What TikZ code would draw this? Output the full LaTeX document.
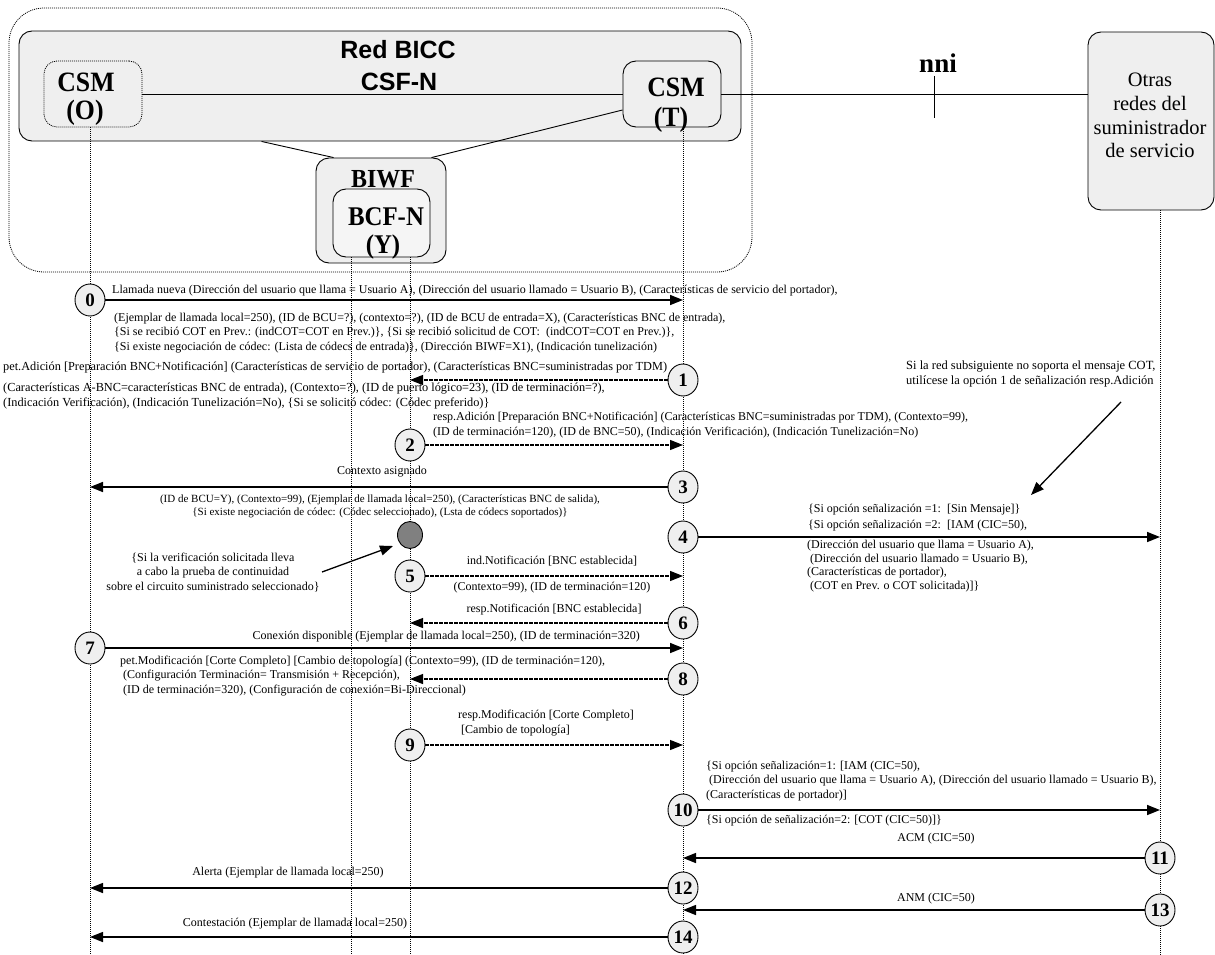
\documentclass[tikz,border=0pt]{standalone}
\usepackage{fontspec}
\setmainfont{Liberation Serif}
\setsansfont{Liberation Sans}
\newfontfamily\condserif[FakeStretch=0.92]{Liberation Serif}
\usetikzlibrary{arrows.meta,shapes.geometric,calc}
\definecolor{boxgray}{HTML}{EFEFEF}
\definecolor{dotgray}{HTML}{808080}
\newcommand\fsz[2]{\fontsize{#1}{#2}\selectfont}
\begin{document}
\begin{tikzpicture}[x=1pt,y=-1pt,
  box/.style={draw, fill=boxgray, line width=0.9pt, rounded corners=13pt, inner sep=0pt},
  life/.style={line width=0.7pt, dash pattern=on 1pt off 1pt},
  num/.style={ellipse, draw, fill=boxgray, line width=0.9pt, minimum width=30pt,
    minimum height=32pt, inner sep=0pt, font=\bfseries\fsz{19}{19}},
  msg/.style={line width=1.5pt, -{Triangle[length=13pt,width=10pt]}},
  dmsg/.style={line width=1.1pt, dash pattern=on 3.5pt off 1.5pt, -{Triangle[length=13pt,width=10pt]}},
  lbl/.style={inner sep=0pt, align=left, font=\fsz{12}{14.2}},
  clbl/.style={inner sep=0pt, align=center, font=\fsz{12}{14.2}},
  big/.style={inner sep=0pt, font=\condserif\bfseries\fsz{28}{28}},
  note/.style={line width=1.3pt, -{Triangle[length=13pt,width=10pt]}}]
\useasboundingbox (0,0) rectangle (1215,955);

% network boxes
\node[draw, line width=0.8pt, dash pattern=on 1pt off 1pt, rounded corners=35pt,
  minimum width=743pt, minimum height=264pt] (outer) at (380.5,140) {};
\node[box, minimum width=722pt, minimum height=110pt] (bicc) at (380,86) {};
\node[font=\sffamily\bfseries\fsz{25}{25}, inner sep=0pt] (bicct) at (398,50) {Red BICC};
\node[font=\sffamily\bfseries\fsz{25}{25}, inner sep=0pt] (csfn) at (399,82) {CSF-N};
\node[box, dash pattern=on 1pt off 1pt, line width=0.8pt, minimum width=98pt, minimum height=66pt] (csmO) at (93,94) {};
\node[big] (csmOa) at (86,82) {CSM};
\node[big] (csmOb) at (85,113) {(O)};
\node[box, minimum width=98pt, minimum height=66pt] (csmT) at (672,94) {};
\node[big] (csmTa) at (676,87) {CSM};
\node[big] (csmTb) at (671,120) {(T)};
\node[box, minimum width=130pt, minimum height=105pt] (biwf) at (381,210.5) {};
\node[inner sep=0pt, font=\condserif\bfseries\fsz{26}{26}] (biwft) at (383,179) {BIWF};
\node[box, fill=boxgray!60, minimum width=97pt, minimum height=68pt] (bcfn) at (381.5,223) {};
\node[inner sep=0pt, font=\condserif\bfseries\fsz{27}{27}] (bcfna) at (386,217) {BCF-N};
\node[inner sep=0pt, font=\condserif\bfseries\fsz{27}{27}] (bcfnb) at (383,247) {(Y)};
\node[box, minimum width=126pt, minimum height=178pt] (otras) at (1151,121) {};
\node[inner sep=0pt, align=center, font=\fsz{20.5}{23.7}] (otrast) at (1150,115.5)
  {Otras\\redes del\\suministrador\\de servicio};
\node[inner sep=0pt, font=\bfseries\fsz{27}{27}] (nni) at (938,63) {nni};

% links between the network elements
\draw[line width=0.9pt] (csmO.east) -- (csmT.west);
\draw[line width=0.9pt] (csmT.east) -- (otras.west |- csmT.east);
\coordinate (tickT) at (934,76);
\coordinate (tickB) at (934,118);
\draw[line width=0.9pt] (tickT) -- (tickB);
\draw[line width=0.9pt] ([xshift=243pt]bicc.south west) -- ([xshift=18pt]biwf.north west);
\draw[line width=0.9pt] ([yshift=-16pt]csmT.west) -- ([xshift=-15pt]biwf.north east);

% lifelines
\coordinate (LO) at (90,955);
\coordinate (LY) at (351,955);
\coordinate (LZ) at (410,955);
\coordinate (LT) at (683,955);
\coordinate (LR) at (1160,955);
\draw[life] (LO |- csmO.south) -- (LO);
\draw[life] (LY |- bcfn.south) -- (LY);
\draw[life] (LZ |- bcfn.south) -- (LZ);
\draw[life] (LT |- csmT.south) -- (LT);
\draw[life] (LR |- otras.south) -- (LR);

% numbered steps
\node[num] (c0) at (90,300) {0};
\node[num] (c1) at (683,380) {1};
\node[num] (c2) at (410,445) {2};
\node[num] (c3) at (683,487) {3};
\node[ellipse, draw, fill=dotgray, line width=0.9pt, minimum width=25pt, minimum height=27pt, inner sep=0pt] (gdot) at (410,535) {};
\node[num] (c4) at (683,537) {4};
\node[num] (c5) at (410,576) {5};
\node[num] (c6) at (683,623) {6};
\node[num] (c7) at (90,648) {7};
\node[num] (c8) at (683,679) {8};
\node[num] (c9) at (410,745) {9};
\node[num] (c10) at (683,810) {10};
\node[num] (c11) at (1160,858) {11};
\node[num] (c12) at (683,888) {12};
\node[num] (c13) at (1160,910) {13};
\node[num] (c14) at (683,937) {14};

% messages
\draw[msg] (c0.east) -- (c0.east -| LT);
\draw[dmsg] (c1.west) -- (c1.west -| LZ);
\draw[dmsg] (c2.east) -- (c2.east -| LT);
\draw[msg] (c3.west) -- (c3.west -| LO);
\draw[msg] (c4.east) -- (c4.east -| LR);
\draw[dmsg] (c5.east) -- (c5.east -| LT);
\draw[dmsg] (c6.west) -- (c6.west -| LZ);
\draw[msg] (c7.east) -- (c7.east -| LT);
\draw[dmsg] (c8.west) -- (c8.west -| LZ);
\draw[dmsg] (c9.east) -- (c9.east -| LT);
\draw[msg] (c10.east) -- (c10.east -| LR);
\draw[msg] (c11.west) -- (c11.west -| LT);
\draw[msg] (c12.west) -- (c12.west -| LO);
\draw[msg] (c13.west) -- (c13.west -| LT);
\draw[msg] (c14.west) -- (c14.west -| LO);

% message parameters
\node[lbl, anchor=west] (t0a) at (112,291) {Llamada nueva (Dirección del usuario que llama = Usuario A), (Dirección del usuario llamado = Usuario B), (Características de servicio del portador),};
\node[lbl, anchor=west] (t0b) at (114,333) {(Ejemplar de llamada local=250), (ID de BCU=?), (contexto=?), (ID de BCU de entrada=X), (Características BNC de entrada),\\
\{Si se recibió COT en Prev.: (indCOT=COT en Prev.)\}, \{Si se recibió solicitud de COT:\ \ (indCOT=COT en Prev.)\},\\
\{Si existe negociación de códec: (Lista de códecs de entrada)\}, (Dirección BIWF=X1), (Indicación tunelización)};
\node[lbl, anchor=west, font=\fsz{12.3}{14.2}] (t1a) at (3,367) {pet.Adición [Preparación BNC+Notificación] (Características de servicio de portador), (Características BNC=suministradas por TDM)};
\node[lbl, anchor=west, font=\fsz{12.3}{14.2}] (t1b) at (3,396) {(Características A-BNC=características BNC de entrada), (Contexto=?), (ID de puerto lógico=23), (ID de terminación=?),\\
(Indicación Verificación), (Indicación Tunelización=No), \{Si se solicitó códec: (Códec preferido)\}};
\node[lbl, anchor=west] (t2) at (433,425) {resp.Adición [Preparación BNC+Notificación] (Características BNC=suministradas por TDM), (Contexto=99),\\
(ID de terminación=120), (ID de BNC=50), (Indicación Verificación), (Indicación Tunelización=No)};
\node[clbl] (t3a) at (382,472) {Contexto asignado};
\node[clbl, font=\fsz{11}{13}] (t3b) at (380,506.5) {(ID de BCU=Y), (Contexto=99), (Ejemplar de llamada local=250), (Características BNC de salida),\\
\{Si existe negociación de códec: (Códec seleccionado), (Lsta de códecs soportados)\}};
\node[lbl, anchor=west, font=\fsz{12.5}{14.5}] (n1) at (906,374) {Si la red subsiguiente no soporta el mensaje COT,\\
utilícese la opción 1 de señalización resp.Adición};
\node[lbl, anchor=west, font=\fsz{12}{16.5}] (t4a) at (808,517.5) {\{Si opción señalización =1:\ \ [Sin Mensaje]\}\\
\{Si opción señalización =2:\ \ [IAM (CIC=50),};
\node[lbl, anchor=west, font=\fsz{12}{13.5}] (t4b) at (807,566) {(Dirección del usuario que llama = Usuario A),\\
\hspace{3pt}(Dirección del usuario llamado = Usuario B),\\
(Características de portador),\\
\hspace{3pt}(COT en Prev. o COT solicitada)]\}};
\node[clbl] (n2) at (213,572.5) {\{Si la verificación solicitada lleva\\
a cabo la prueba de continuidad\\
sobre el circuito suministrado seleccionado\}};
\node[clbl] (t5a) at (552,561) {ind.Notificación [BNC establecida]};
\node[clbl] (t5b) at (552,588) {(Contexto=99), (ID de terminación=120)};
\node[clbl] (t6) at (554,610) {resp.Notificación [BNC establecida]};
\node[lbl, anchor=east] (t7) at (640,637) {Conexión disponible (Ejemplar de llamada local=250), (ID de terminación=320)};
\node[lbl, anchor=west] (t8) at (120,676) {pet.Modificación [Corte Completo] [Cambio de topología] (Contexto=99), (ID de terminación=120),\\
\hspace{3pt}(Configuración Terminación= Transmisión + Recepción),\\
\hspace{3pt}(ID de terminación=320), (Configuración de conexión=Bi-Direccional)};
\node[lbl, anchor=west] (t9) at (458,723) {resp.Modificación [Corte Completo]\\
\hspace{3pt}[Cambio de topología]};
\node[lbl, anchor=west] (t10a) at (706,781) {\{Si opción señalización=1: [IAM (CIC=50),\\
\hspace{3pt}(Dirección del usuario que llama = Usuario A), (Dirección del usuario llamado = Usuario B),\\
(Características de portador)]};
\node[lbl, anchor=west] (t10b) at (706,821) {\{Si opción de señalización=2: [COT (CIC=50)]\}};
\node[clbl] (t11) at (936,839) {ACM (CIC=50)};
\node[clbl] (t12) at (288,873) {Alerta (Ejemplar de llamada local=250)};
\node[clbl] (t13) at (936,899) {ANM (CIC=50)};
\node[clbl] (t14) at (295,924) {Contestación (Ejemplar de llamada local=250)};

% annotation pointers
\coordinate (n1tail) at (1121,402);
\coordinate (n1head) at (1031,495);
\draw[note] (n1tail) -- (n1head);
\coordinate (n2tail) at (322,572);
\coordinate (n2head) at (393,546);
\draw[note] (n2tail) -- (n2head);
\end{tikzpicture}
\end{document}
